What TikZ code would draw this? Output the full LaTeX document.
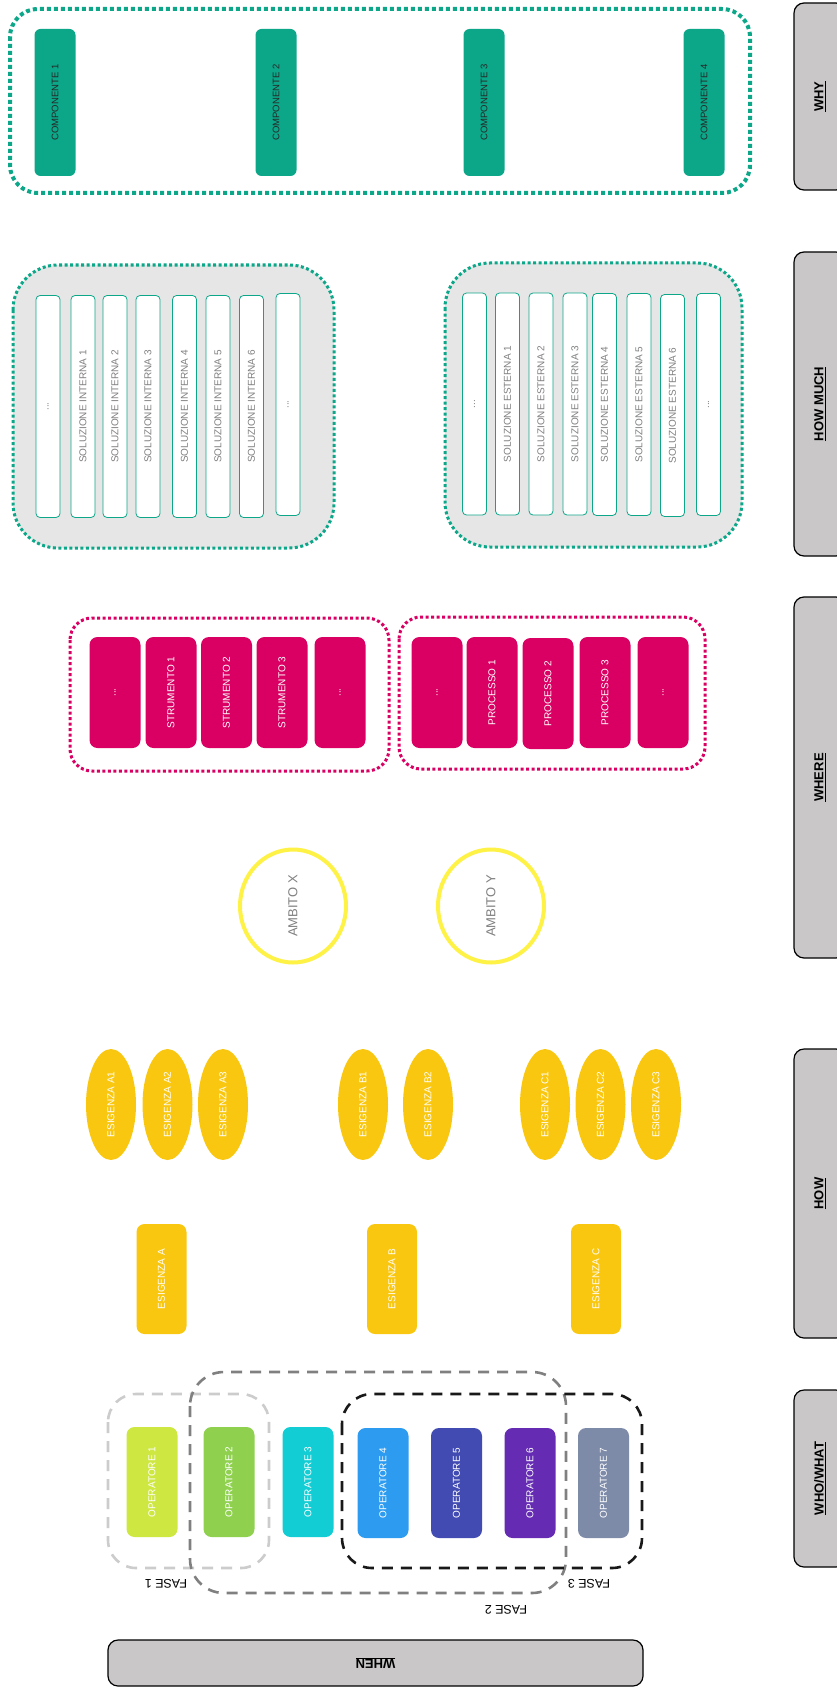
\documentclass[tikz,border=0pt]{standalone}
\usepackage{fontspec}
\setmainfont{Liberation Sans}
\usetikzlibrary{shapes.geometric}

\definecolor{miroGreen}{RGB}{12,167,137}
\definecolor{miroYellow}{RGB}{250,199,16}
\definecolor{miroPink}{RGB}{218,0,99}
\definecolor{ringYellow}{RGB}{254,242,70}
\definecolor{labelGray}{RGB}{201,199,200}
\definecolor{panelGray}{RGB}{230,230,230}
\definecolor{opLime}{RGB}{206,231,65}
\definecolor{opGreen}{RGB}{143,209,79}
\definecolor{opCyan}{RGB}{18,205,212}
\definecolor{opBlue}{RGB}{45,155,240}
\definecolor{opIndigo}{RGB}{65,75,178}
\definecolor{opViolet}{RGB}{101,44,179}
\definecolor{opSlate}{RGB}{125,138,168}

\begin{document}
\begin{tikzpicture}[
        x=1pt, y=-1pt,
        lbl/.style={draw=black, line width=1.2pt, fill=labelGray, rounded corners=10pt, inner sep=0pt, font=\fontsize{13}{15}\selectfont\bfseries},
        comp/.style={fill=miroGreen, rounded corners=6pt, rotate=90, minimum width=147pt, minimum height=41pt, inner sep=0pt, text=black!85, font=\fontsize{9.5}{11}\selectfont},
        sol/.style={draw=miroGreen, line width=0.8pt, fill=white, rounded corners=4pt, rotate=90, minimum width=222pt, minimum height=24pt, inner sep=0pt, text=gray, font=\fontsize{10}{12}\selectfont},
        tool/.style={fill=miroPink, rounded corners=8pt, rotate=90, minimum width=111pt, minimum height=51pt, inner sep=0pt, text=white, font=\fontsize{10}{12}\selectfont},
        ambito/.style={ellipse, draw=ringYellow, line width=4pt, fill=white, rotate=90, minimum width=113pt, minimum height=106pt, inner sep=0pt, text=gray, font=\fontsize{13}{15}\selectfont},
        need/.style={ellipse, fill=miroYellow, rotate=90, minimum width=111pt, minimum height=50pt, inner sep=0pt, text=white, font=\fontsize{10}{12}\selectfont},
        needbox/.style={fill=miroYellow, rounded corners=8pt, rotate=90, minimum width=110pt, minimum height=50pt, inner sep=0pt, text=white, font=\fontsize{10}{12}\selectfont},
        oper/.style={fill=#1, rounded corners=8pt, rotate=90, minimum width=110pt, minimum height=51pt, inner sep=0pt, text=white, font=\fontsize{10}{12}\selectfont},
        fase/.style={draw=#1, line width=2.6pt, dash pattern=on 11pt off 8pt},
        faselbl/.style={rotate=180, font=\fontsize{12.5}{14}\selectfont},
        dotframe/.style={draw=#1, line width=3pt, dash pattern=on 3pt off 2.5pt}
    ]
    \useasboundingbox (0,0) rectangle (837,1688);
    \clip (0,0) rectangle (837,1688);
    \fill[white] (0,0) rectangle (837,1688);

    % labels on the right
    \node[lbl, rotate=90, minimum width=187pt, minimum height=52pt] (why) at (820,96.5) {\underline{WHY}};
    \node[lbl, rotate=90, minimum width=304pt, minimum height=52pt] (howmuch) at (820,404) {\underline{HOW MUCH}};
    \node[lbl, rotate=90, minimum width=361pt, minimum height=52pt] (where) at (820,777.5) {\underline{WHERE}};
    \node[lbl, rotate=90, minimum width=289pt, minimum height=52pt] (how) at (820,1193.5) {\underline{HOW}};
    \node[lbl, rotate=90, minimum width=177pt, minimum height=52pt] (whowhat) at (820,1478.5) {\underline{WHO/WHAT}};
    \node[lbl, rotate=180, minimum width=535pt, minimum height=46pt] (when) at (375.5,1663) {\underline{WHEN}};

    % WHY
    \draw[dotframe=miroGreen, line width=4pt, dash pattern=on 4pt off 3pt, rounded corners=28pt] (10,9) rectangle (750,193);
    \node[comp] (comp1) at (55,102.5) {COMPONENTE 1};
    \node[comp] (comp2) at (276,102.5) {COMPONENTE 2};
    \node[comp] (comp3) at (484,102.5) {COMPONENTE 3};
    \node[comp] (comp4) at (704,102.5) {COMPONENTE 4};

    % HOW MUCH
    \draw[dotframe=miroGreen, fill=panelGray, rounded corners=45pt] (13,265) rectangle (334,548);
    \draw[dotframe=miroGreen, fill=panelGray, rounded corners=45pt] (445,263) rectangle (742,547);
    \node[sol] (intA) at (48,406.5) {...};
    \node[sol] (int1) at (83,406.5) {SOLUZIONE INTERNA 1};
    \node[sol] (int2) at (115,406.5) {SOLUZIONE INTERNA 2};
    \node[sol] (int3) at (148,406.5) {SOLUZIONE INTERNA 3};
    \node[sol] (int4) at (184.5,406.5) {SOLUZIONE INTERNA 4};
    \node[sol] (int5) at (218,406.5) {SOLUZIONE INTERNA 5};
    \node[sol] (int6) at (251.5,406.5) {SOLUZIONE INTERNA 6};
    \node[sol] (intB) at (288,404.5) {...};
    \node[sol] (extA) at (474.5,404) {...};
    \node[sol] (ext1) at (507.5,404) {SOLUZIONE ESTERNA 1};
    \node[sol] (ext2) at (541,404) {SOLUZIONE ESTERNA 2};
    \node[sol] (ext3) at (575,404) {SOLUZIONE ESTERNA 3};
    \node[sol] (ext4) at (604.5,404.5) {SOLUZIONE ESTERNA 4};
    \node[sol] (ext5) at (639,404.5) {SOLUZIONE ESTERNA 5};
    \node[sol] (ext6) at (672.5,405.5) {SOLUZIONE ESTERNA 6};
    \node[sol] (extB) at (708.5,404.5) {...};

    % WHERE
    \draw[dotframe=miroPink, rounded corners=22pt] (70,618) rectangle (389,771);
    \draw[dotframe=miroPink, rounded corners=22pt] (399,617) rectangle (705,769);
    \node[tool] (strA) at (115,692.5) {...};
    \node[tool] (str1) at (171,692.5) {STRUMENTO 1};
    \node[tool] (str2) at (226.5,692.5) {STRUMENTO 2};
    \node[tool] (str3) at (282,692.5) {STRUMENTO 3};
    \node[tool] (strB) at (340,692.5) {...};
    \node[tool] (procA) at (437,692.5) {...};
    \node[tool] (proc1) at (492,692.5) {PROCESSO 1};
    \node[tool] (proc2) at (548,693.5) {PROCESSO 2};
    \node[tool] (proc3) at (605,692.5) {PROCESSO 3};
    \node[tool] (procB) at (663,692.5) {...};

    \node[ambito] (ambX) at (293,906) {AMBITO X};
    \node[ambito] (ambY) at (491,906) {AMBITO Y};

    % HOW
    \node[need] (needA1) at (111,1104.5) {ESIGENZA A1};
    \node[need] (needA2) at (167.5,1104.5) {ESIGENZA A2};
    \node[need] (needA3) at (223,1104.5) {ESIGENZA A3};
    \node[need] (needB1) at (363,1104.5) {ESIGENZA B1};
    \node[need] (needB2) at (428,1104.5) {ESIGENZA B2};
    \node[need] (needC1) at (545,1104.5) {ESIGENZA C1};
    \node[need] (needC2) at (600.5,1104.5) {ESIGENZA C2};
    \node[need] (needC3) at (656,1104.5) {ESIGENZA C3};
    \node[needbox] (needA) at (161.5,1279) {ESIGENZA A};
    \node[needbox] (needB) at (392,1279) {ESIGENZA B};
    \node[needbox] (needC) at (596,1279) {ESIGENZA C};

    % WHO/WHAT
    \node[oper=opLime] (op1) at (152,1482) {OPERATORE 1};
    \node[oper=opGreen] (op2) at (229,1482) {OPERATORE 2};
    \node[oper=opCyan] (op3) at (308,1482) {OPERATORE 3};
    \node[oper=opBlue] (op4) at (383,1483) {OPERATORE 4};
    \node[oper=opIndigo] (op5) at (456.5,1483) {OPERATORE 5};
    \node[oper=opViolet] (op6) at (530,1483) {OPERATORE 6};
    \node[oper=opSlate] (op7) at (603.5,1483) {OPERATORE 7};

    % WHEN
    \draw[fase=black!20, rounded corners=28pt] (108,1394) rectangle (269,1568);
    \draw[fase=black!50, rounded corners=34pt] (190,1372) rectangle (566,1593);
    \draw[fase=black!90, rounded corners=30pt] (342,1394) rectangle (642,1568);
    \node[faselbl] (fase1) at (166,1584) {FASE 1};
    \node[faselbl] (fase2) at (506,1610) {FASE 2};
    \node[faselbl] (fase3) at (589,1584) {FASE 3};
\end{tikzpicture}
\end{document}
